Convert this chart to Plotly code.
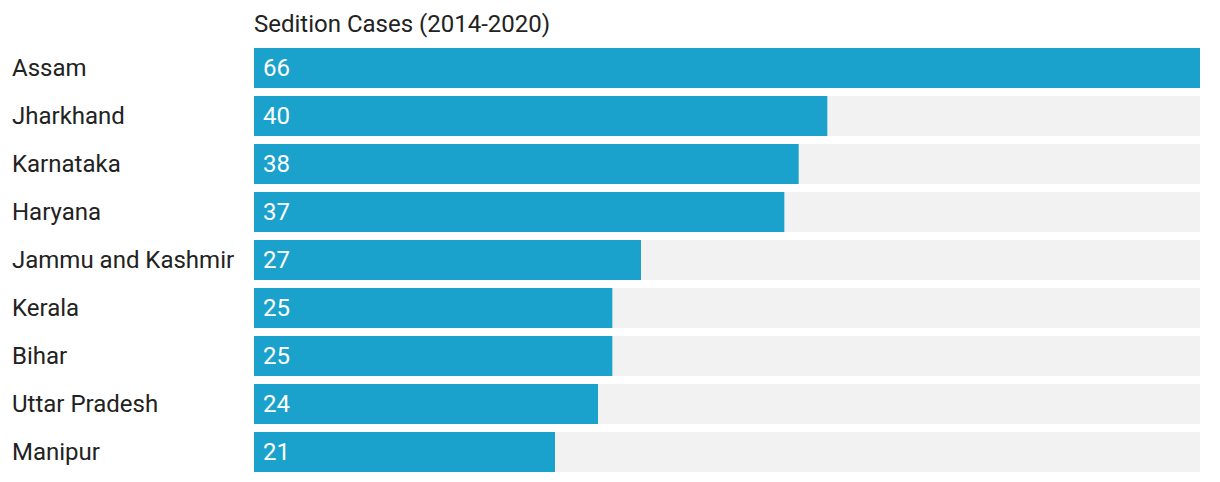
import plotly.graph_objects as go

states = ["Assam", "Jharkhand", "Karnataka", "Haryana", "Jammu and Kashmir",
          "Kerala", "Bihar", "Uttar Pradesh", "Manipur"]
cases = [66, 40, 38, 37, 27, 25, 25, 24, 21]
title_text = "Sedition Cases (2014-2020)"

max_val = max(cases)
font_family = "Roboto, 'Open Sans', sans-serif"
fs = 24

fig = go.Figure()
fig.add_trace(go.Bar(
    y=states, x=[max_val] * len(states), orientation="h",
    marker=dict(color="#f2f2f2", line=dict(width=0)),
    hoverinfo="skip", showlegend=False,
))
fig.add_trace(go.Bar(
    y=states, x=cases, orientation="h",
    marker=dict(color="#1aa2cd", line=dict(width=0)),
    showlegend=False,
))

annotations = []
for s, v in zip(states, cases):
    annotations.append(dict(
        x=0, y=s, xref="x", yref="y", text=str(v), showarrow=False,
        xanchor="left", xshift=7, font=dict(color="white", size=fs, family=font_family),
    ))
    annotations.append(dict(
        x=-242 / 946, y=s, xref="paper", yref="y", text=s, showarrow=False,
        xanchor="left", xshift=-2, font=dict(color="#222222", size=fs, family=font_family),
    ))
annotations.append(dict(
    x=0, y=1, xref="paper", yref="paper", text=title_text, showarrow=False,
    xanchor="left", yanchor="bottom", yshift=4, xshift=-2,
    font=dict(color="#222222", size=fs, family=font_family),
))

fig.update_layout(
    width=1212, height=474,
    margin=dict(l=246, r=20, t=36, b=6),
    barmode="overlay", bargap=8 / 48,
    plot_bgcolor="white", paper_bgcolor="white",
    xaxis=dict(range=[0, max_val], visible=False, fixedrange=True),
    yaxis=dict(autorange="reversed", showticklabels=False, showgrid=False,
               zeroline=False, fixedrange=True),
    annotations=annotations,
    font=dict(family=font_family),
)

fig.write_html("out.html")
